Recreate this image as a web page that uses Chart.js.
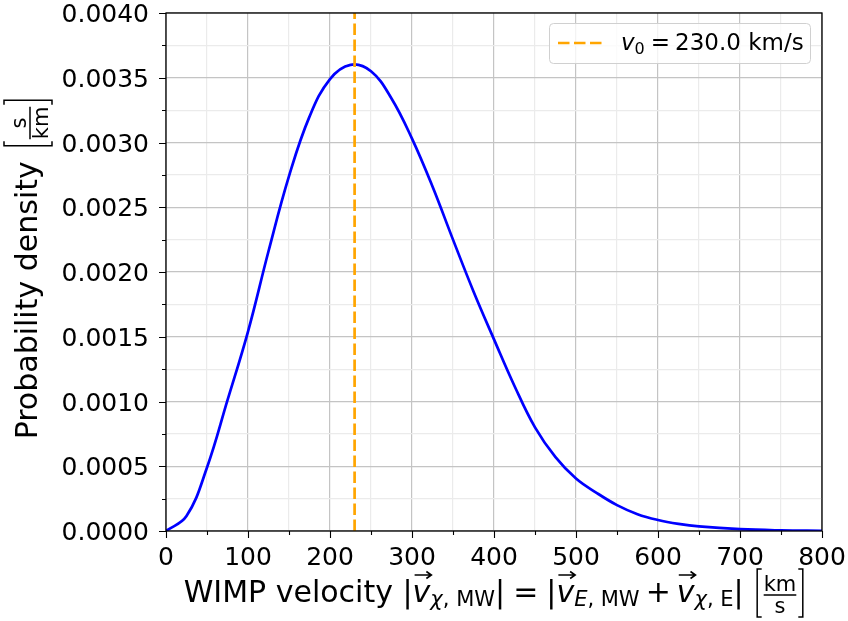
<!DOCTYPE html>
<html>
<head>
<meta charset="utf-8">
<script src="https://cdn.jsdelivr.net/npm/chart.js@4.4.1/dist/chart.umd.min.js"></script>
<style>
  html, body { margin: 0; padding: 0; background: #fff; }
  canvas { display: block; }
</style>
</head>
<body>
<canvas id="chart" width="848" height="621"></canvas>
<script>
// values
const speeds = [0, 25, 50, 75, 100, 125, 150, 175, 200, 225, 250, 275, 300, 325, 350,
                375, 400, 425, 450, 475, 500, 525, 550, 575, 600, 625, 650, 700, 750, 800];
const density = [0, 0.000115, 0.00049, 0.00101, 0.00154, 0.00216, 0.00274, 0.0032,
                 0.00349, 0.0036, 0.00355, 0.00334, 0.00303, 0.00266, 0.00225, 0.00185, 0.00148, 0.00112,
                 0.0008, 0.00057, 0.000405, 0.000295, 0.0002, 0.00013, 0.000085, 0.000055, 0.000035,
                 0.000014, 0.000005, 0.000002];
const v0 = 230.0;
const xMajorTicks = [0, 100, 200, 300, 400, 500, 600, 700, 800];
const yMajorTicks = [0, 0.0005, 0.001, 0.0015, 0.002, 0.0025, 0.003, 0.0035, 0.004];

const FONT = '"DejaVu Sans"';
const majorGrid = '#c4c4c4';
const minorGrid = '#ebebeb';

function isMajor(v, list) {
  return list.some(m => Math.abs(m - v) < 1e-9);
}

// --- little helper for the math-ish titles ---
function measureRuns(ctx, runs) {
  let w = 0;
  runs.forEach(r => {
    if (r.gap) r.w = r.gap;
    else if (r.frac) {
      ctx.font = r.f;
      r.fw = Math.max(ctx.measureText(r.frac[0]).width, ctx.measureText(r.frac[1]).width);
      r.w = r.fw + 16;
    } else {
      ctx.font = r.f;
      r.w = ctx.measureText(r.t).width;
    }
    w += r.w;
  });
  return w;
}

function drawArrow(ctx, x0, x1, y) {
  ctx.save();
  ctx.strokeStyle = '#000';
  ctx.lineWidth = 1.6;
  ctx.beginPath();
  ctx.moveTo(x0, y); ctx.lineTo(x1, y);
  ctx.moveTo(x1 - 5, y - 3.5); ctx.lineTo(x1, y); ctx.lineTo(x1 - 5, y + 3.5);
  ctx.stroke();
  ctx.restore();
}

function drawFrac(ctx, r, x, y) {
  ctx.save();
  ctx.strokeStyle = '#000';
  ctx.lineWidth = 1.5;
  const top = y - 33, bot = y + 15;
  ctx.beginPath();
  ctx.moveTo(x + 6, top); ctx.lineTo(x + 1.5, top); ctx.lineTo(x + 1.5, bot); ctx.lineTo(x + 6, bot);
  const xr = x + r.w;
  ctx.moveTo(xr - 6, top); ctx.lineTo(xr - 1.5, top); ctx.lineTo(xr - 1.5, bot); ctx.lineTo(xr - 6, bot);
  ctx.moveTo(x + 8, y - 7); ctx.lineTo(x + 8 + r.fw, y - 7);
  ctx.stroke();
  ctx.font = r.f;
  ctx.textAlign = 'center';
  ctx.fillText(r.frac[0], x + 8 + r.fw / 2, y - 11);
  ctx.fillText(r.frac[1], x + 8 + r.fw / 2, y + 11);
  ctx.restore();
}

function drawRuns(ctx, runs, x, y) {
  ctx.textAlign = 'left';
  ctx.textBaseline = 'alphabetic';
  runs.forEach(r => {
    if (r.t) {
      ctx.font = r.f;
      ctx.fillText(r.t, x, y + (r.dy || 0));
      if (r.arrow) drawArrow(ctx, x + 2, x + r.w + 1, y - 27);
    } else if (r.frac) {
      drawFrac(ctx, r, x, y);
    }
    x += r.w;
  });
}

const B = '30px ' + FONT, I = 'italic 30px ' + FONT;
const sB = '21px ' + FONT, sI = 'italic 21px ' + FONT;

const xTitle = [
  { t: 'WIMP velocity ', f: B },
  { t: '|', f: B },
  { t: 'v', f: I, arrow: true },
  { t: 'χ', f: sI, dy: 4 }, { t: ', MW', f: sB, dy: 4 },
  { t: '|', f: B },
  { gap: 8 }, { t: '=', f: B }, { gap: 8 },
  { t: '|', f: B },
  { t: 'v', f: I, arrow: true },
  { t: 'E', f: sI, dy: 4 }, { t: ', MW', f: sB, dy: 4 },
  { gap: 6 }, { t: '+', f: B }, { gap: 6 },
  { t: 'v', f: I, arrow: true },
  { t: 'χ', f: sI, dy: 4 }, { t: ', E', f: sB, dy: 4 },
  { t: '|', f: B },
  { gap: 12 },
  { frac: ['km', 's'], f: sB }
];

const yTitle = [
  { t: 'Probability density', f: B },
  { gap: 14 },
  { frac: ['s', 'km'], f: sB }
];

const decorPlugin = {
  id: 'decor',
  afterDraw(chart) {
    const ctx = chart.ctx;
    const a = chart.chartArea;
    const xs = chart.scales.x, ys = chart.scales.y;
    ctx.save();
    ctx.fillStyle = '#000';
    ctx.strokeStyle = '#000';

    // frame
    ctx.lineWidth = 1.3;
    ctx.strokeRect(a.left, a.top, a.right - a.left, a.bottom - a.top);

    // major / minor ticks
    ctx.lineWidth = 1.1;
    ctx.beginPath();
    xs.ticks.forEach(t => {
      const px = Math.round(xs.getPixelForValue(t.value)) + 0.5;
      const len = isMajor(t.value, xMajorTicks) ? 7 : 4;
      ctx.moveTo(px, a.bottom); ctx.lineTo(px, a.bottom + len);
    });
    ys.ticks.forEach(t => {
      const py = Math.round(ys.getPixelForValue(t.value)) + 0.5;
      const len = isMajor(t.value, yMajorTicks) ? 7 : 4;
      ctx.moveTo(a.left, py); ctx.lineTo(a.left - len, py);
    });
    ctx.stroke();

    // legend
    const lx = a.right - 12 - 261, ly = a.top + 10;
    ctx.beginPath();
    ctx.roundRect(lx + 0.5, ly + 0.5, 261, 40, 4);
    ctx.fillStyle = 'rgba(255,255,255,0.8)';
    ctx.fill();
    ctx.strokeStyle = '#d0d0d0';
    ctx.lineWidth = 1;
    ctx.stroke();
    ctx.strokeStyle = '#ffa500';
    ctx.lineWidth = 2.7;
    ctx.setLineDash([11.5, 4.5]);
    ctx.beginPath();
    ctx.moveTo(lx + 9, ly + 20); ctx.lineTo(lx + 54, ly + 20);
    ctx.stroke();
    ctx.setLineDash([]);
    ctx.fillStyle = '#000';
    const legendRuns = [
      { t: 'v', f: 'italic 23px ' + FONT },
      { t: '0', f: '16px ' + FONT, dy: 3.5 },
      { gap: 6 }, { t: '=', f: '23px ' + FONT }, { gap: 5 },
      { t: v0.toFixed(1) + ' km/s', f: '23px ' + FONT }
    ];
    measureRuns(ctx, legendRuns);
    drawRuns(ctx, legendRuns, lx + 72, ly + 27);

    // x title
    const cx = (a.left + a.right) / 2;
    const wx = measureRuns(ctx, xTitle);
    drawRuns(ctx, xTitle, cx - wx / 2, a.bottom + 71);

    // y title
    const wy = measureRuns(ctx, yTitle);
    ctx.translate(37, (a.top + a.bottom) / 2 - 3);
    ctx.rotate(-Math.PI / 2);
    drawRuns(ctx, yTitle, -wy / 2, 0);
    ctx.restore();
  }
};

const ctx = document.getElementById('chart').getContext('2d');
new Chart(ctx, {
  type: 'line',
  data: {
    datasets: [
      {
        label: 'v0',
        data: [{ x: v0, y: 0 }, { x: v0, y: 0.004 }],
        borderColor: '#ffa500',
        borderWidth: 2.7,
        borderDash: [11.5, 4.5],
        pointRadius: 0,
        order: 1
      },
      {
        label: 'density',
        data: speeds.map((s, i) => ({ x: s, y: density[i] })),
        borderColor: '#0000ff',
        borderWidth: 2.7,
        pointRadius: 0,
        tension: 0.4,
        order: 2
      }
    ]
  },
  options: {
    responsive: false,
    animation: false,
    devicePixelRatio: 1,
    layout: { padding: { top: 13, right: 26, left: 0, bottom: 0 } },
    plugins: { legend: { display: false }, tooltip: { enabled: false } },
    scales: {
      x: {
        type: 'linear',
        min: 0, max: 800,
        afterFit: s => { s.height = 90; s.paddingLeft = 0; s.paddingRight = 0; },
        border: { display: false },
        grid: {
          drawTicks: false,
          lineWidth: 1.2,
          color: c => isMajor(c.tick.value, xMajorTicks) ? majorGrid : minorGrid
        },
        ticks: {
          stepSize: 50,
          autoSkip: false,
          maxRotation: 0,
          padding: 15,
          color: '#000',
          font: { family: 'DejaVu Sans', size: 25, lineHeight: 1 },
          callback: v => isMajor(v, xMajorTicks) ? String(v) : ''
        }
      },
      y: {
        type: 'linear',
        min: 0, max: 0.004,
        afterFit: s => { s.width = 166; s.paddingTop = 0; s.paddingBottom = 0; },
        border: { display: false },
        grid: {
          drawTicks: false,
          lineWidth: 1.2,
          color: c => isMajor(c.tick.value, yMajorTicks) ? majorGrid : minorGrid
        },
        ticks: {
          stepSize: 0.00025,
          autoSkip: false,
          padding: 17,
          labelOffset: 2.5,
          color: '#000',
          font: { family: 'DejaVu Sans', size: 25, lineHeight: 1 },
          callback: v => isMajor(v, yMajorTicks) ? v.toFixed(4) : ''
        }
      }
    }
  },
  plugins: [decorPlugin]
});
</script>
</body>
</html>
